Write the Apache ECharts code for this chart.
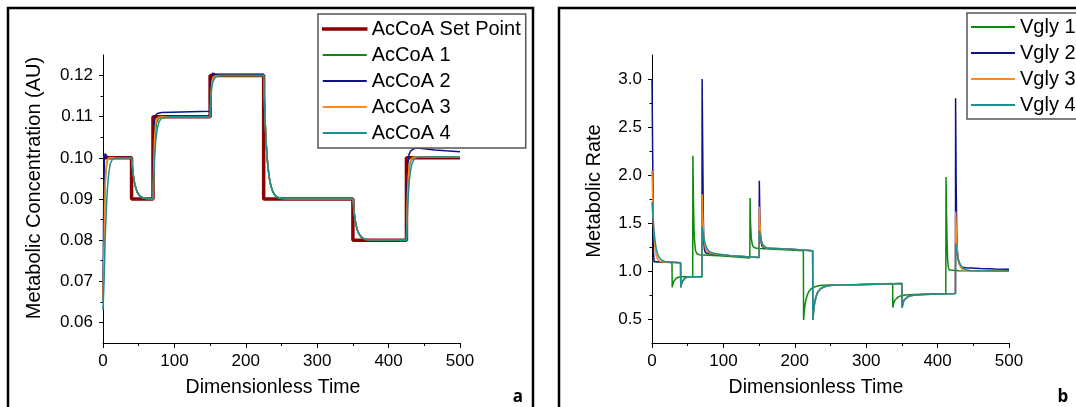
<!DOCTYPE html>
<html>
<head>
<meta charset="utf-8">
<script src="https://cdn.jsdelivr.net/npm/echarts@6/dist/echarts.min.js"></script>
<style>
  html, body { margin: 0; padding: 0; background: #fff; }
  #chart { width: 1076px; height: 407px; }
</style>
</head>
<body>
<div id="chart"></div>
<script>
// ---- Panel a: AcCoA concentration [time, value] ----
const concTicks = [0.06, 0.07, 0.08, 0.09, 0.10, 0.11, 0.12];
const concMinorTicks = [0.065, 0.075, 0.085, 0.095, 0.105, 0.115];
const rateTicks = [0.5, 1.0, 1.5, 2.0, 2.5, 3.0];
const rateMinorTicks = [0.75, 1.25, 1.75, 2.25, 2.75];
const timeTicks = [0, 100, 200, 300, 400, 500];

const setPoint = [[0,0.1],[40,0.1],[40,0.09],[70,0.09],[70,0.11],[150,0.11],[150,0.12],[225,0.12],
  [225,0.09],[350,0.09],[350,0.08],[425,0.08],[425,0.1],[500,0.1]];

// falls shared by all controlled AcCoA traces
const concFall40 = [[40,0.1],[41,0.098],[42,0.0964],[43,0.0951],[44,0.0941],[45,0.0933],[46,0.0926],
  [48,0.0917],[50,0.0911],[53,0.09055],[56,0.0903],[60,0.09012],[65,0.09004],[70,0.09]];
const concFall225 = [[225,0.12],[226,0.114],[227,0.1092],[228,0.1053],[229,0.1023],[230,0.0999],
  [231,0.0978],[233,0.0951],[235,0.0933],[238,0.0917],[241,0.0909],[245,0.09036],[250,0.09012],
  [256,0.09003],[350,0.09]];
const concFall350 = [[350,0.09],[351,0.088],[352,0.0864],[353,0.0851],[354,0.0841],[355,0.0833],
  [356,0.0826],[358,0.0817],[360,0.0811],[363,0.08055],[366,0.0803],[370,0.08012],[375,0.08004],[425,0.08]];

const accoa1Start = [[0,0.065],[1.5,0.082],[3,0.094],[5,0.0985],[7,0.0998],[10,0.1]];
const accoa1Rise70 = [[70,0.09],[71.5,0.099],[73,0.105],[75,0.1085],[78,0.1097],[83,0.11],[150,0.11]];
const accoa1Rise150 = [[150,0.11],[151.5,0.1168],[153,0.1188],[155,0.1196],[159,0.12],[225,0.12]];
const accoa1Rise425 = [[425,0.08],[426.5,0.0905],[428,0.0962],[430,0.0988],[433,0.0999],[438,0.1002],[500,0.1002]];

const accoa2Start = [[0,0.066],[1,0.09],[2,0.1005],[3,0.101],[5,0.1005],[8,0.1]];
const accoa2Rise70 = [[70,0.09],[71,0.1],[72,0.1085],[73.5,0.1103],[76,0.1108],[82,0.111],[150,0.1113]];
const accoa2Rise150 = [[150,0.1113],[151,0.1165],[152,0.1198],[153.5,0.1206],[157,0.1204],[225,0.1203]];
const accoa2Rise425 = [[425,0.08],[426,0.091],[427,0.0985],[428.5,0.1008],[431,0.1017],[435,0.1022],
  [440,0.1024],[450,0.1022],[465,0.1019],[480,0.1017],[500,0.1015]];

const accoa3Start = [[0,0.066],[1.5,0.08],[3,0.093],[4.5,0.0975],[6,0.0993],[8,0.1]];
const accoa3Rise70 = [[70,0.09],[71,0.098],[72,0.104],[73.5,0.108],[75,0.1093],[78,0.1099],[82,0.11],[150,0.11]];
const accoa3Rise150 = [[150,0.11],[151,0.1155],[152.5,0.1185],[154,0.1195],[157,0.1199],[162,0.12],[225,0.12]];
const accoa3Rise425 = [[425,0.08],[426,0.089],[427.5,0.0955],[429,0.0985],[431,0.0996],[434,0.1001],[440,0.1002],[500,0.1002]];

const accoa4Start = [[0,0.063],[1.5,0.07],[3,0.08],[4.5,0.087],[6,0.092],[8,0.0962],[10,0.0985],[13,0.0996],[17,0.1]];
const accoa4Rise70 = [[70,0.09],[71,0.095],[72.5,0.1005],[74,0.1045],[76,0.107],[78,0.1085],[81,0.1095],[85,0.1099],[90,0.11],[150,0.11]];
const accoa4Rise150 = [[150,0.11],[151,0.1145],[152.5,0.1175],[154,0.1185],[156,0.1193],[159,0.1198],[164,0.12],[225,0.12]];
const accoa4Rise425 = [[425,0.08],[426,0.085],[427.5,0.0905],[429,0.0945],[431,0.0972],[433,0.0987],[436,0.0997],
  [440,0.1001],[446,0.1002],[500,0.1002]];

// ---- Panel b: glycolytic rate [time, value] ----
const vgly1 = [[0,1.1],[10,1.095],[20,1.09],[28,1.085],[28.3,0.83],[29.3,0.865],[30.5,0.89],[32,0.91],[34,0.925],
  [37,0.935],[41,0.94],[57,0.94],[57.3,2.2],[58,1.75],[58.8,1.45],[59.7,1.3],[61,1.21],[63,1.18],[66,1.17],
  [100,1.155],[137,1.135],[137.3,1.76],[138,1.5],[139,1.35],[140.3,1.28],[142,1.25],[145,1.24],[150,1.235],
  [180,1.225],[212,1.21],[212.3,0.49],[213.5,0.6],[215,0.68],[217,0.74],[219.5,0.785],[223,0.815],[228,0.835],
  [235,0.848],[247,0.853],[290,0.86],[337,0.87],[337.3,0.62],[338.5,0.665],[340,0.695],[342,0.715],[345,0.73],
  [349,0.742],[355,0.75],[367,0.755],[411.5,0.765],[411.8,1.98],[412.5,1.6],[413.3,1.3],[414,1.12],[415,1.04],
  [416.5,1.01],[430,1.003],[500,1.0]];

const rateDip40 = [[40,1.085],[40.3,0.83],[41.3,0.865],[42.5,0.89],[44,0.91],[46,0.925],[49,0.935],[53,0.94],[70,0.94]];
const rateDip225 = [[225,1.21],[225.3,0.49],[226.5,0.6],[228,0.68],[230,0.74],[232.5,0.785],[236,0.815],[241,0.835],
  [248,0.848],[260,0.853],[300,0.86],[350,0.87]];
const rateDip350 = [[350,0.87],[350.3,0.62],[351.5,0.665],[353,0.695],[355,0.715],[358,0.73],[362,0.742],[368,0.75],
  [380,0.755],[425,0.765]];

const vgly2Start = [[0,3.0],[1.2,2.0],[2,1.2],[3,1.1],[20,1.095],[40,1.085]];
const vgly2Spike70 = [[70,0.94],[70.2,3.0],[71,2.3],[71.8,1.6],[72.6,1.3],[73.5,1.22],[75,1.19],[80,1.18],[110,1.16],[150,1.14]];
const vgly2Spike150 = [[150,1.14],[150.3,1.94],[151,1.6],[151.8,1.4],[152.8,1.3],[154,1.26],[157,1.24],[190,1.23],[225,1.21]];
const vgly2Spike425 = [[425,0.765],[425.2,2.8],[426,1.9],[426.8,1.4],[427.8,1.2],[429,1.11],[431,1.06],[434,1.04],
  [440,1.033],[460,1.025],[480,1.02],[500,1.017]];

const vgly3Start = [[0,2.05],[0.8,1.8],[1.6,1.58],[2.5,1.42],[3.5,1.3],[4.5,1.22],[6,1.16],[8,1.12],[11,1.1],[20,1.095],[40,1.085]];
const vgly3Spike70 = [[70,0.94],[70.3,1.8],[71.2,1.55],[72.2,1.4],[73.5,1.29],[75,1.23],[77.5,1.2],[82,1.185],[90,1.175],[110,1.16],[150,1.14]];
const vgly3Spike150 = [[150,1.14],[150.3,1.67],[151.2,1.5],[152.2,1.38],[153.5,1.3],[155.5,1.26],[159,1.24],[190,1.23],[225,1.21]];
const vgly3Spike425 = [[425,0.765],[425.3,1.62],[426.2,1.42],[427.2,1.26],[428.5,1.15],[430,1.08],[432.5,1.035],[436,1.012],[442,1.003],[500,1.0]];

const vgly4Start = [[0,1.72],[1,1.6],[2,1.49],[3,1.4],[4.5,1.3],[6,1.23],[8,1.17],[10,1.14],[13,1.115],[17,1.103],[22,1.095],[40,1.085]];
const vgly4Spike70 = [[70,0.94],[70.3,1.46],[71.5,1.4],[73,1.33],[75,1.27],[77,1.235],[80,1.205],[84,1.19],[90,1.18],[110,1.16],[150,1.14]];
const vgly4Spike150 = [[150,1.14],[150.3,1.42],[151.5,1.37],[153,1.32],[155,1.28],[157.5,1.255],[161,1.24],[166,1.235],[190,1.23],[225,1.21]];
const vgly4Spike425 = [[425,0.765],[425.3,1.29],[426.5,1.22],[428,1.15],[430,1.1],[432,1.065],[435,1.035],[439,1.015],[445,1.005],[460,1.002],[500,1.0]];

const accoa1 = [].concat(accoa1Start, concFall40, accoa1Rise70, accoa1Rise150, concFall225, concFall350, accoa1Rise425);
const accoa2 = [].concat(accoa2Start, concFall40, accoa2Rise70, accoa2Rise150, concFall225, concFall350, accoa2Rise425);
const accoa3 = [].concat(accoa3Start, concFall40, accoa3Rise70, accoa3Rise150, concFall225, concFall350, accoa3Rise425);
const accoa4 = [].concat(accoa4Start, concFall40, accoa4Rise70, accoa4Rise150, concFall225, concFall350, accoa4Rise425);
const vgly2 = [].concat(vgly2Start, rateDip40, vgly2Spike70, vgly2Spike150, rateDip225, rateDip350, vgly2Spike425);
const vgly3 = [].concat(vgly3Start, rateDip40, vgly3Spike70, vgly3Spike150, rateDip225, rateDip350, vgly3Spike425);
const vgly4 = [].concat(vgly4Start, rateDip40, vgly4Spike70, vgly4Spike150, rateDip225, rateDip350, vgly4Spike425);

const COLORS = { set: '#8b0000', green: '#0a8a0a', blue: '#10108c', orange: '#ff8a1c', teal: '#1a9090' };
const FONT = 'Liberation Sans, Arial, sans-serif';

function xAxisFor(grid) {
  return {
    type: 'value', gridIndex: grid, min: 0, max: 500, interval: 100,
    axisLine: { show: true, lineStyle: { color: '#000', width: 1 } },
    axisTick: { show: true, length: 5, lineStyle: { color: '#000' } },
    minorTick: { show: true, splitNumber: 2, length: 3, lineStyle: { color: '#000' } },
    splitLine: { show: false },
    axisLabel: { fontSize: 17, color: '#000', fontFamily: FONT, margin: 10,
      customValues: timeTicks }
  };
}
function yAxisFor(grid, min, max, ticks, fmt) {
  return {
    type: 'value', gridIndex: grid, min: min, max: max,
    axisLine: { show: true, onZero: false, lineStyle: { color: '#000', width: 1 } },
    axisTick: { show: true, length: 4, lineStyle: { color: '#000' }, customValues: ticks },
    splitLine: { show: false },
    axisLabel: { fontSize: 17, color: '#000', fontFamily: FONT, margin: 10,
      customValues: ticks, formatter: fmt }
  };
}
function yMinorFor(grid, min, max, ticks) {
  return {
    type: 'value', gridIndex: grid, min: min, max: max, position: 'left',
    axisLine: { show: false },
    axisTick: { show: true, length: 2.5, lineStyle: { color: '#000' }, customValues: ticks },
    splitLine: { show: false },
    axisLabel: { show: false }
  };
}
function line(name, data, color, width, xi, yi) {
  return { name: name, type: 'line', data: data, xAxisIndex: xi, yAxisIndex: yi,
    symbol: 'none', showSymbol: false, clip: true,
    lineStyle: { color: color, width: width }, itemStyle: { color: color } };
}
const legendBase = {
  orient: 'vertical', icon: 'rect', itemWidth: 44, itemHeight: 2, itemGap: 6,
  backgroundColor: '#fff', borderColor: '#555', borderWidth: 1.5, borderRadius: 0,
  textStyle: { fontSize: 20, color: '#000', fontFamily: FONT, lineHeight: 20 }
};
function labelText(text, x, y, rotate, style) {
  return { type: 'text', x: x, y: y, rotation: rotate ? Math.PI / 2 : 0,
    style: Object.assign({ text: text, fontSize: 20, fontFamily: FONT, fill: '#000',
      align: 'center', verticalAlign: 'middle' }, style || {}) };
}

const chart = echarts.init(document.getElementById('chart'), null, { renderer: 'canvas' });
chart.setOption({
  animation: false,
  backgroundColor: '#fff',
  grid: [
    { left: 103, top: 55, width: 357, height: 288 },
    { left: 652, top: 55, width: 357, height: 288 }
  ],
  xAxis: [xAxisFor(0), xAxisFor(1)],
  yAxis: [
    yAxisFor(0, 0.055, 0.125, concTicks, v => v.toFixed(2)),
    yAxisFor(1, 0.25, 3.25, rateTicks, v => v.toFixed(1)),
    yMinorFor(0, 0.055, 0.125, concMinorTicks),
    yMinorFor(1, 0.25, 3.25, rateMinorTicks)
  ],
  legend: [
    Object.assign({}, legendBase, { left: 318, top: 14, padding: [5, 5, 5, 4],
      data: [
        { name: 'AcCoA Set Point', itemStyle: { borderColor: COLORS.set, borderWidth: 1.5 } },
        'AcCoA 1', 'AcCoA 2', 'AcCoA 3', 'AcCoA 4'] }),
    Object.assign({}, legendBase, { left: 967, top: 13, padding: [4, 6, 4, 4],
      data: ['Vgly 1', 'Vgly 2', 'Vgly 3', 'Vgly 4'] })
  ],
  series: [
    line('AcCoA Set Point', setPoint, COLORS.set, 3.5, 0, 0),
    line('AcCoA 1', accoa1, COLORS.green, 1.5, 0, 0),
    line('AcCoA 2', accoa2, COLORS.blue, 1.5, 0, 0),
    line('AcCoA 3', accoa3, COLORS.orange, 1.5, 0, 0),
    line('AcCoA 4', accoa4, COLORS.teal, 1.5, 0, 0),
    line('Vgly 1', vgly1, COLORS.green, 1.5, 1, 1),
    line('Vgly 2', vgly2, COLORS.blue, 1.5, 1, 1),
    line('Vgly 3', vgly3, COLORS.orange, 1.5, 1, 1),
    line('Vgly 4', vgly4, COLORS.teal, 1.5, 1, 1)
  ],
  graphic: [
    { type: 'rect', shape: { x: 8, y: 8, width: 525, height: 430 },
      style: { fill: 'none', stroke: '#000', lineWidth: 2.5 }, z: 100 },
    { type: 'rect', shape: { x: 559, y: 8, width: 560, height: 430 },
      style: { fill: 'none', stroke: '#000', lineWidth: 2.5 }, z: 100 },
    labelText('Metabolic Concentration (AU)', 34, 188, true),
    labelText('Metabolic Rate', 594, 191, true),
    labelText('Dimensionless Time', 273, 388, false, { fontSize: 19.5 }),
    labelText('Dimensionless Time', 816, 388, false, { fontSize: 19.5 }),
    labelText('a', 518, 397, false, { fontSize: 17, fontWeight: 'bold', fontFamily: 'Open Sans, sans-serif' }),
    labelText('b', 1063, 397, false, { fontSize: 17, fontWeight: 'bold', fontFamily: 'Open Sans, sans-serif' })
  ]
});
</script>
</body>
</html>
